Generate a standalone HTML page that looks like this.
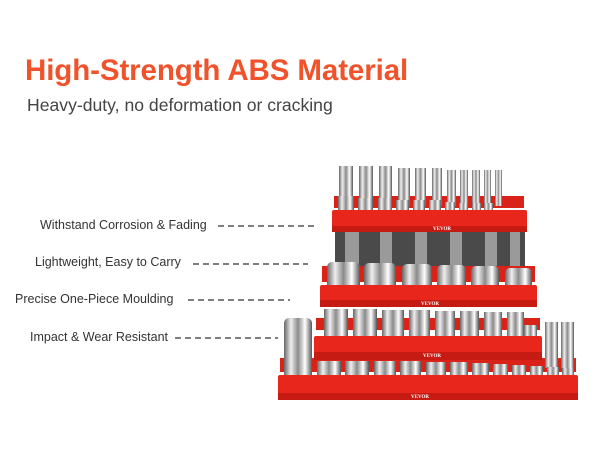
<!DOCTYPE html>
<html><head><meta charset="utf-8"><style>
html,body{margin:0;padding:0;background:#fff;}
body{width:600px;height:450px;overflow:hidden;position:relative;font-family:"Liberation Sans",sans-serif;}
.t{position:absolute;left:25px;top:54px;font-size:29.5px;font-weight:bold;color:#f0532b;letter-spacing:-0.1px;}
.s{position:absolute;left:27px;top:95px;font-size:17.6px;color:#444;}
.l{position:absolute;font-size:12.5px;color:#333;white-space:nowrap;}
svg{position:absolute;left:0;top:0;}
</style></head><body>
<div class="t">High-Strength ABS Material</div>
<div class="s">Heavy-duty, no deformation or cracking</div>
<div class="l" style="left:40px;top:218px">Withstand Corrosion &amp; Fading</div>
<div class="l" style="left:35px;top:255px">Lightweight, Easy to Carry</div>
<div class="l" style="left:15px;top:292px">Precise One-Piece Moulding</div>
<div class="l" style="left:30px;top:330px">Impact &amp; Wear Resistant</div>
<svg width="600" height="450">
<defs>
<linearGradient id="c" x1="0" x2="1"><stop offset="0" stop-color="#666"/><stop offset=".25" stop-color="#eee"/><stop offset=".5" stop-color="#8a8a8a"/><stop offset=".75" stop-color="#fff"/><stop offset="1" stop-color="#555"/></linearGradient>
</defs>
<g stroke="#333" stroke-width="1.3" stroke-dasharray="6,4">
<line x1="218" y1="226" x2="315" y2="226"/>
<line x1="193" y1="264" x2="308" y2="264"/>
<line x1="188" y1="300" x2="290" y2="300"/>
<line x1="175" y1="338" x2="278" y2="338"/>
</g>
<rect x="335" y="230" width="190" height="38" fill="#4a4a4a"/>
<g fill="#9a9a9a"><rect x="345" y="232" width="14" height="34"/><rect x="380" y="232" width="12" height="34"/><rect x="415" y="232" width="12" height="34"/><rect x="450" y="232" width="12" height="34"/><rect x="485" y="232" width="12" height="34"/><rect x="510" y="232" width="10" height="34"/></g>
<g fill="#d92218">
<rect x="334" y="196" width="190" height="12"/>
<rect x="322" y="266" width="213" height="16"/>
<rect x="316" y="318" width="224" height="12"/>
<rect x="280" y="358" width="296" height="14"/>
</g>
<g fill="url(#c)">
<rect x="339" y="166" width="14" height="40"/><rect x="359" y="166" width="14" height="40"/><rect x="379" y="166" width="13" height="40"/><rect x="398" y="168" width="12" height="38"/><rect x="415" y="168" width="11" height="38"/><rect x="432" y="168" width="10" height="38"/><rect x="447" y="170" width="9" height="36"/><rect x="460" y="170" width="8" height="36"/><rect x="472" y="170" width="8" height="36"/><rect x="484" y="170" width="7" height="36"/><rect x="495" y="170" width="7" height="36"/>
<rect x="327" y="262" width="33" height="36" rx="5"/><rect x="364" y="263" width="32" height="35" rx="5"/><rect x="402" y="264" width="30" height="34" rx="5"/><rect x="437" y="265" width="29" height="33" rx="5"/><rect x="471" y="266" width="28" height="32" rx="5"/><rect x="505" y="268" width="27" height="30" rx="5"/>
<rect x="324" y="309" width="24" height="32"/><rect x="353" y="309" width="24" height="32"/><rect x="382" y="310" width="22" height="31"/><rect x="409" y="310" width="21" height="31"/><rect x="435" y="311" width="20" height="30"/><rect x="460" y="311" width="19" height="30"/><rect x="484" y="312" width="18" height="29"/><rect x="507" y="312" width="17" height="29"/><rect x="524" y="325" width="13" height="16"/>
<rect x="284" y="318" width="28" height="70" rx="5"/>
<rect x="545" y="322" width="13" height="46"/><rect x="561" y="322" width="13" height="46"/>
<rect x="317" y="361" width="24" height="26"/><rect x="345" y="361" width="24" height="26"/><rect x="374" y="361" width="22" height="26"/><rect x="400" y="361" width="21" height="26"/><rect x="426" y="362" width="20" height="25"/><rect x="450" y="362" width="18" height="25"/><rect x="472" y="363" width="17" height="24"/><rect x="493" y="364" width="15" height="23"/><rect x="512" y="365" width="14" height="22"/><rect x="530" y="366" width="13" height="21"/><rect x="547" y="367" width="12" height="20"/><rect x="562" y="368" width="12" height="19"/>
<rect x="338" y="196" width="16" height="20"/><rect x="358" y="198" width="15" height="18"/><rect x="378" y="198" width="14" height="18"/><rect x="396" y="200" width="13" height="16"/><rect x="413" y="200" width="12" height="16"/><rect x="429" y="200" width="12" height="16"/><rect x="445" y="202" width="10" height="14"/><rect x="459" y="203" width="9" height="13"/><rect x="472" y="203" width="9" height="13"/><rect x="484" y="203" width="9" height="13"/>
</g>
<g fill="#e8261c">
<rect x="332" y="210" width="195" height="22" rx="2"/>
<rect x="320" y="285" width="217" height="22" rx="2"/>
<rect x="314" y="336" width="228" height="24" rx="2"/>
<rect x="278" y="375" width="300" height="25" rx="2"/>
</g>
<g fill="#c61b13">
<rect x="332" y="226" width="195" height="6"/>
<rect x="320" y="300" width="217" height="7"/>
<rect x="314" y="352" width="228" height="8"/>
<rect x="278" y="393" width="300" height="7"/>
</g>
<g fill="#fff" font-family="Liberation Serif,serif" font-weight="bold" font-size="5" text-anchor="middle">
<text x="442" y="230">VEVOR</text>
<text x="430" y="305">VEVOR</text>
<text x="432" y="357">VEVOR</text>
<text x="420" y="398">VEVOR</text>
</g>
</svg>
</body></html>
